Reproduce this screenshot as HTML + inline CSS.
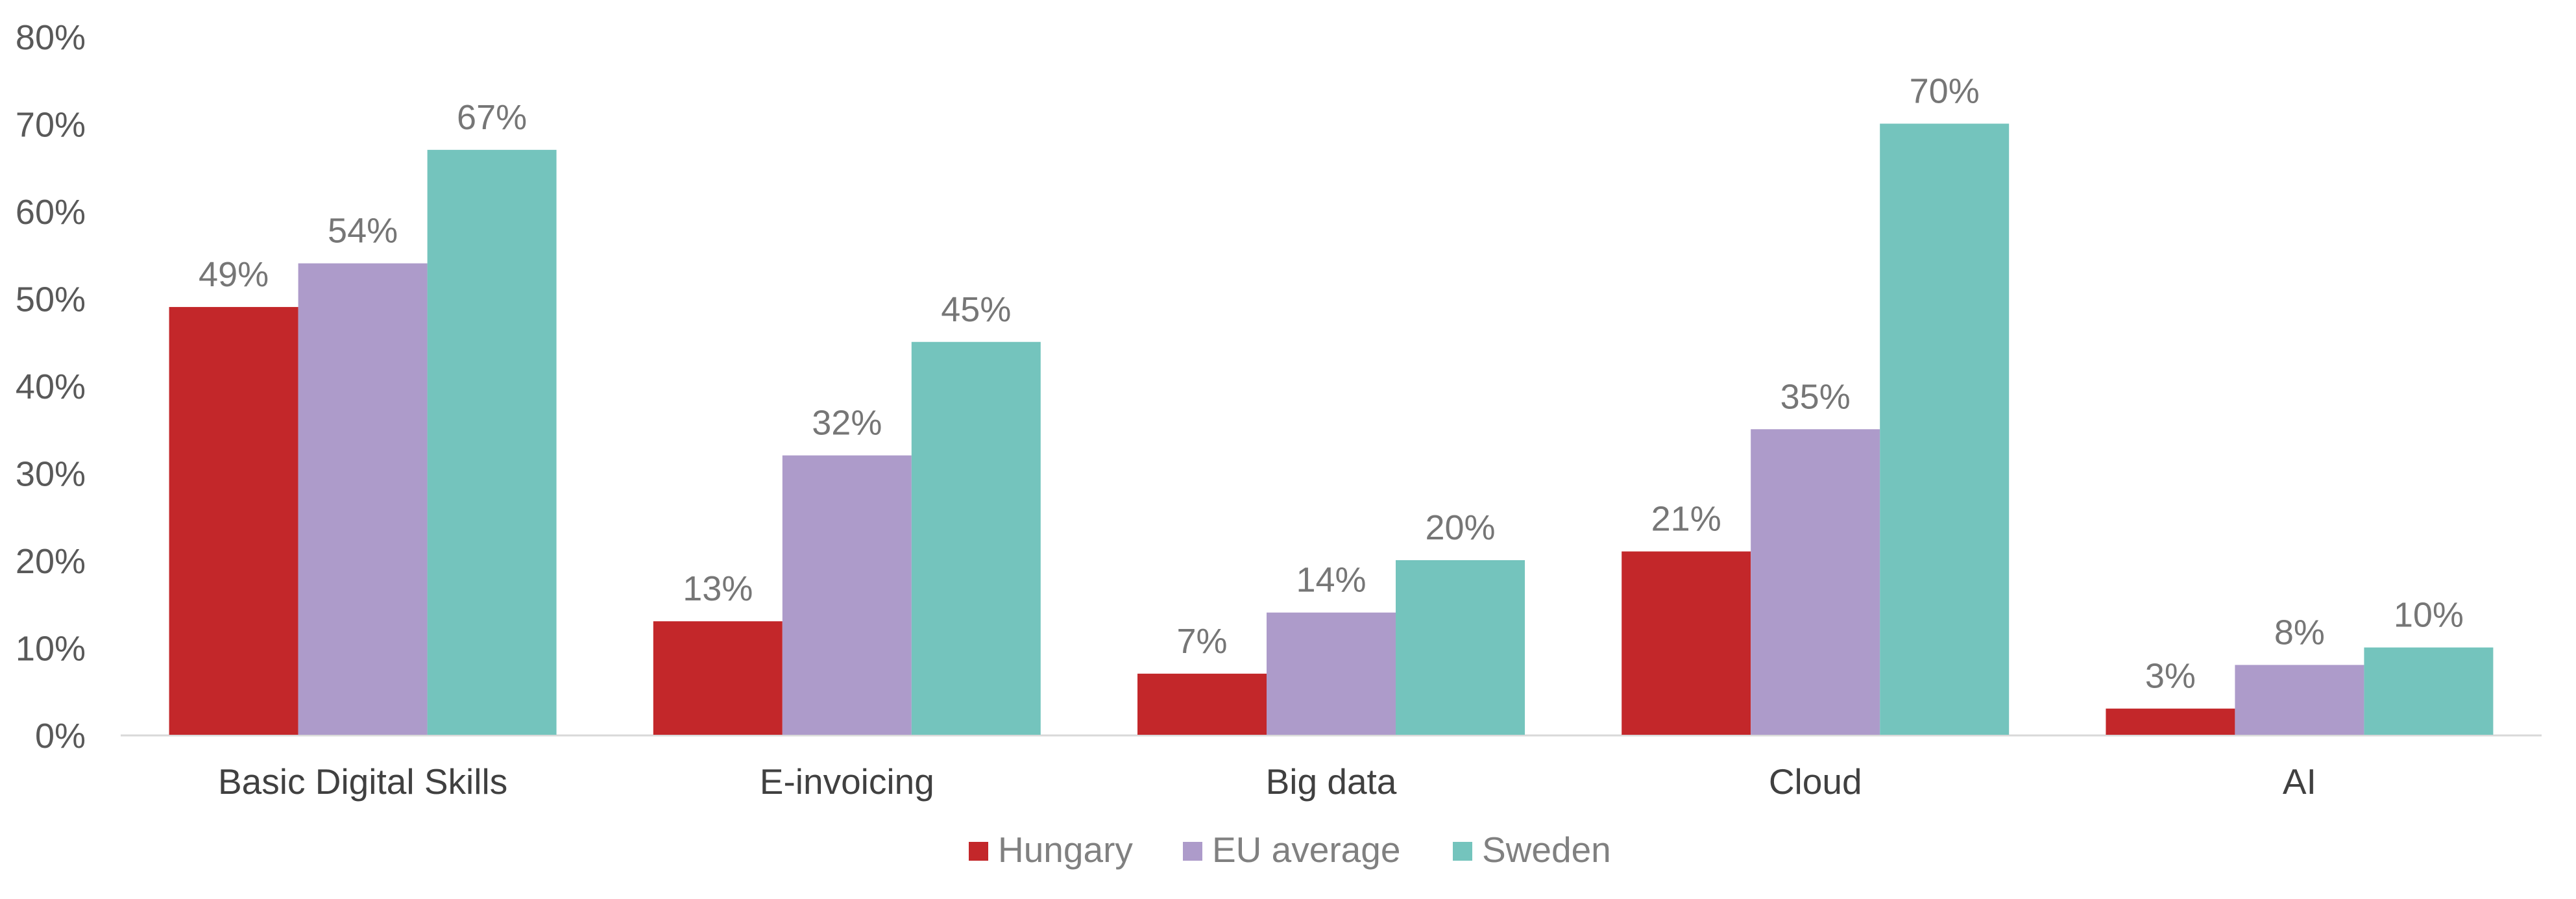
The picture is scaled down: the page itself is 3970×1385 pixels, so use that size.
<!DOCTYPE html>
<html><head><meta charset="utf-8"><style>
html,body{margin:0;padding:0;background:#fff;}
svg{display:block;font-family:"Liberation Sans",sans-serif;}
</style></head><body>
<svg id="chart" width="3970" height="1385" viewBox="0 0 3970 1385">
<g id="yaxis"></g>
<g id="bars"></g>
<g id="xaxis"></g>
<g id="legend"></g>
</svg>
<script>
const categories = ["Basic Digital Skills","E-invoicing","Big data","Cloud","AI"];
const hungary = [49,13,7,21,3];
const euAverage = [54,32,14,35,8];
const sweden = [67,45,20,70,10];
const seriesNames = ["Hungary","EU average","Sweden"];
const yTicks = [0,10,20,30,40,50,60,70,80];

const NS="http://www.w3.org/2000/svg";
const colors=["#c3272a","#ad9bca","#74c4bd"];
const series=[hungary,euAverage,sweden];
const plotL=186, plotR=3917, baseY=1132, unit=13.45;
const groupW=(plotR-plotL)/categories.length, barW=199, gap=(groupW-3*barW)/2;
const y=v=>baseY-v*unit;
const xBar=(ci,si)=>plotL+ci*groupW+gap+si*barW;
function mk(tag,attrs,parent,text){const e=document.createElementNS(NS,tag);for(const k in attrs)e.setAttribute(k,attrs[k]);if(text!==undefined)e.textContent=text;parent.appendChild(e);return e;}

const ya=document.getElementById('yaxis');
yTicks.forEach(t=>{
  const e=mk('text',{x:132,y:y(t)+20,'text-anchor':'end','font-size':54,fill:'#595959'},ya,t+'%');
  
  
});
const base=mk('line',{x1:plotL,x2:plotR,y1:baseY+1,y2:baseY+1,stroke:'#d9d9d9','stroke-width':3},ya);



const bg=document.getElementById('bars');
categories.forEach((c,ci)=>{
  series.forEach((s,si)=>{
    const v=s[ci];
    const r=mk('rect',{x:xBar(ci,si),y:y(v),width:barW,height:baseY-y(v),fill:colors[si]},bg);
    
    
    const l=mk('text',{x:xBar(ci,si)+barW/2,y:y(v)-32,'text-anchor':'middle','font-size':54,fill:'#767676'},bg,v+'%');
    
    
  });
});

const xa=document.getElementById('xaxis');
categories.forEach((c,ci)=>{
  const e=mk('text',{x:plotL+ci*groupW+groupW/2,y:1223,'text-anchor':'middle','font-size':55,fill:'#404040'},xa,c);
  
  
});

const lg=document.getElementById('legend');
const lx=[1493,1823,2239];
seriesNames.forEach((n,i)=>{
  const g=mk('g',{},lg);
  
  
  mk('rect',{x:lx[i],y:1297,width:30,height:29,fill:colors[i]},g);
  mk('text',{x:lx[i]+45,y:1328,'font-size':55,fill:'#808080'},g,n);
});
</script>
</body></html>
